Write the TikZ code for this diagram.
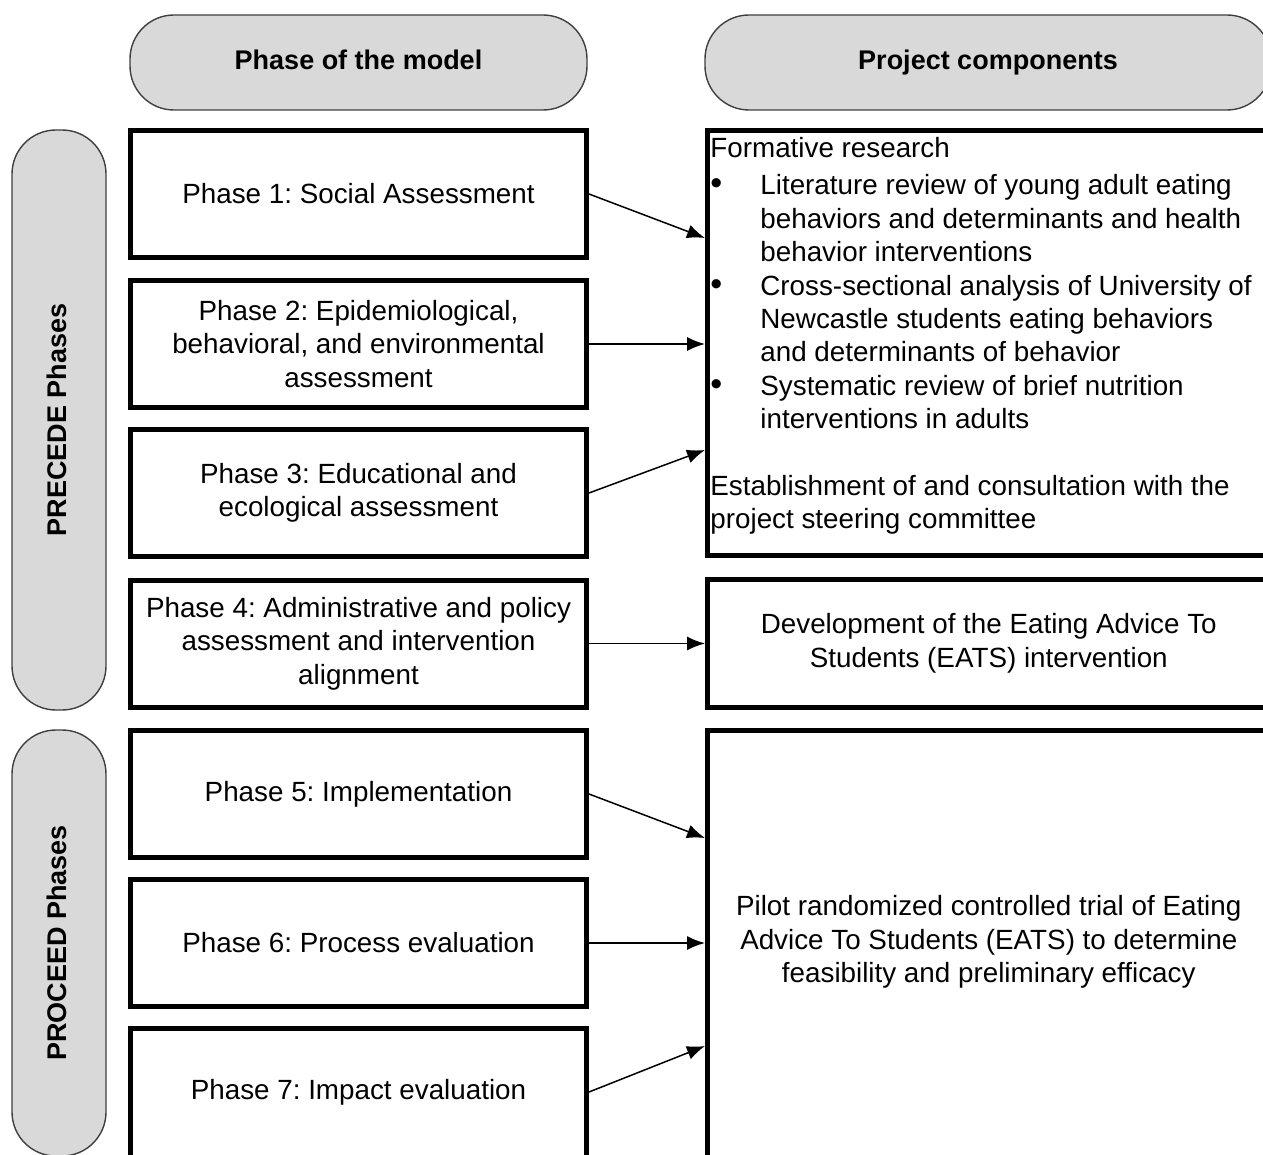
\documentclass[tikz,border=0pt]{standalone}
\usepackage{fontspec}
\setmainfont{Liberation Sans}
\usetikzlibrary{arrows.meta}
\newcommand\dgfont{\fontsize{13.9pt}{16.7pt}\selectfont\frenchspacing}
\newcommand\hdfont{\fontsize{13.5pt}{16.7pt}\selectfont\bfseries}
\newcommand\bul{{\fontsize{17pt}{16.7pt}\selectfont\textbullet}}
\definecolor{pillgray}{HTML}{D9D9D9}
\definecolor{pilledge}{HTML}{404040}

\begin{document}
\begin{tikzpicture}[x=0.5pt, y=-0.5pt, >={Latex[length=9pt,width=7pt]}, font=\dgfont,
    pill/.style={draw=pilledge, fill=pillgray, line width=0.7pt, rounded corners=22pt, font=\hdfont, text height=9.8pt, text depth=2.8pt},
    phase/.style={draw, line width=2.5pt, minimum width=228pt, minimum height=63.5pt, align=center, inner sep=0pt},
    comp/.style={draw, line width=2.5pt, minimum width=281.25pt, align=center, inner sep=0pt},
    arr/.style={->, line width=0.75pt}]
  \useasboundingbox (0,0) rectangle (1263,1155);
  % column headers
  \node[pill, minimum width=228.5pt, minimum height=47.5pt] (hphase) at (358.5,62.5) {Phase of the model};
  \node[pill, minimum width=283pt, minimum height=47.5pt] (hcomp) at (988,62.5) {Project components};
  % side labels
  \node[pill, rotate=90, minimum width=290pt, minimum height=47pt] (precede) at (59,420) {PRECEDE Phases};
  \node[pill, rotate=90, minimum width=213pt, minimum height=47pt] (proceed) at (59,943) {PROCEED Phases};
  % phases
  \node[phase] (p1) at (358.5,194) {Phase 1: Social Assessment};
  \node[phase] (p2) at (358.5,344) {Phase 2: Epidemiological,\\ behavioral, and environmental\\ assessment};
  \node[phase] (p3) at (358.5,493) {Phase 3: Educational and\\ ecological assessment};
  \node[phase] (p4) at (358.5,643.5) {Phase 4: Administrative and policy\\ assessment and intervention\\ alignment};
  \node[phase] (p5) at (358.5,794) {Phase 5: Implementation};
  \node[phase] (p6) at (358.5,943) {Phase 6: Process evaluation};
  \node[phase, minimum height=85.75pt] (p7) at (358.5,1114.25) {};
  \node (p7t) at (358.5,1092) {Phase 7: Impact evaluation};
  % project components
  \node[comp, minimum height=212.5pt] (r1) at (988.75,343) {};
  \node[anchor=base west, inner sep=0pt] (r1t) at (710,158) {%
    \begin{tabular}[t]{@{}p{25pt}@{}l@{}}
      \multicolumn{2}{@{}l@{}}{Formative research}\\[1.8pt]
      \bul & Literature review of young adult eating\\
      & behaviors and determinants and health\\
      & behavior interventions\\
      \bul & Cross-sectional analysis of University of\\
      & Newcastle students eating behaviors\\
      & and determinants of behavior\\
      \bul & Systematic review of brief nutrition\\
      & interventions in adults\\
      & \\
      \multicolumn{2}{@{}l@{}}{Establishment of and consultation with the}\\
      \multicolumn{2}{@{}l@{}}{project steering committee}
    \end{tabular}};
  \node[comp, minimum height=64pt] (r2) at (988.75,643.5) {Development of the Eating Advice To\\ Students (EATS) intervention};
  \node[comp, minimum height=234.75pt] (r3) at (988.75,965.25) {};
  \node[align=center] (r3t) at (988.75,942) {Pilot randomized controlled trial of Eating\\ Advice To Students (EATS) to determine\\ feasibility and preliminary efficacy};
  \coordinate (t6) at (p6.east -| r3.west);
  % links
  \draw[arr] (p1.east) -- ([yshift=52.5pt]r1.west);
  \draw[arr] (p2.east) -- (p2.east -| r1.west);
  \draw[arr] (p3.east) -- ([yshift=-53.5pt]r1.west);
  \draw[arr] (p4) -- (r2);
  \draw[arr] (p5.east) -- ([yshift=52.5pt]t6);
  \draw[arr] (p6.east) -- (t6);
  \draw[arr] (p7t -| p7.east) -- ([yshift=-51.5pt]t6);
\end{tikzpicture}
\end{document}
